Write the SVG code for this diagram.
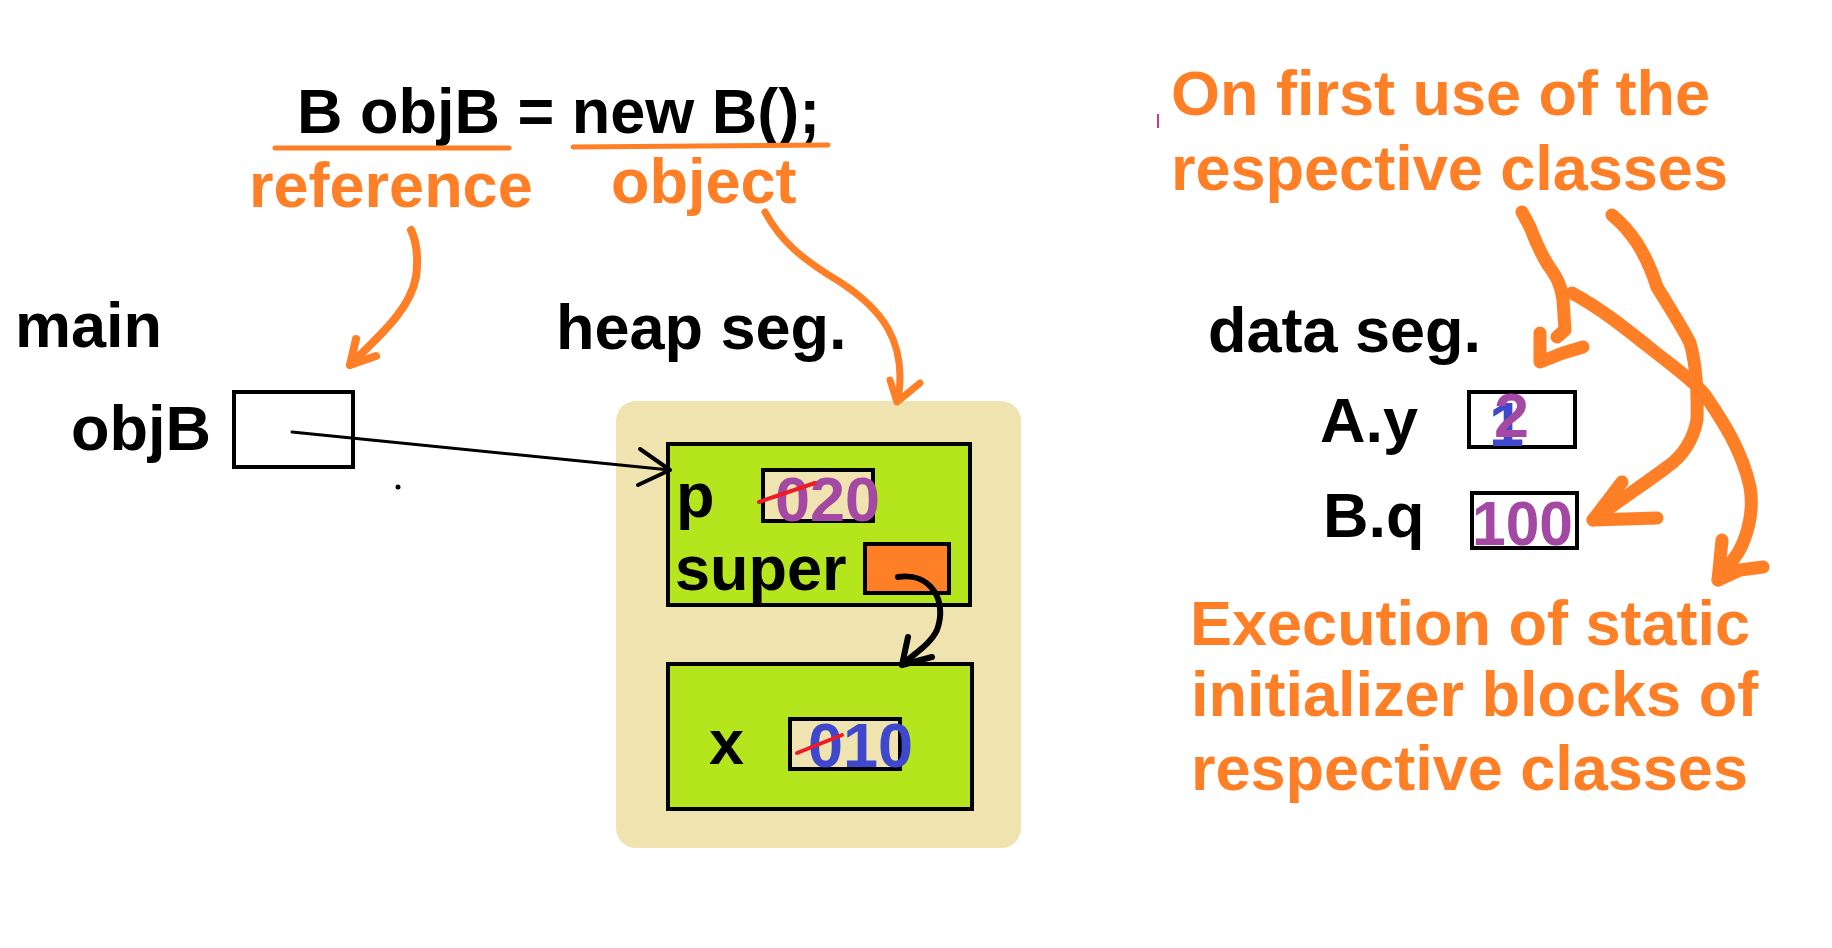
<svg xmlns="http://www.w3.org/2000/svg" width="1832" height="948" viewBox="0 0 1832 948">
<defs>
<style>
text{font-family:"Liberation Sans",Arial,sans-serif;font-weight:bold;font-size:63px}
.k{fill:#000}
.o{fill:#FF7F27}
.pu{fill:#A349A4}
.bl{fill:#3F48CC}
.box{stroke:#000;stroke-width:4}
.or{fill:none;stroke:#FF7F27;stroke-linecap:round;stroke-linejoin:round}
.bk{fill:none;stroke:#000;stroke-linecap:round;stroke-linejoin:round}
.strike{stroke:#ED1C24;stroke-width:4;stroke-linecap:round}
</style>
</defs>
<rect width="1832" height="948" fill="#fff"/>

<g id="code">
<text class="k" x="297" y="133">B objB = new B();</text>
<line x1="275" y1="148" x2="509" y2="148" stroke="#FF7F27" stroke-width="5" stroke-linecap="round"/>
<path d="M573,147 L700,146 L828,145" fill="none" stroke="#FF7F27" stroke-width="5" stroke-linecap="round"/>
<text class="o" x="249" y="207">reference</text>
<text class="o" x="611" y="203">object</text>
</g>

<g id="main">
<text class="k" x="15" y="347">main</text>
<text class="k" x="71" y="450">objB</text>
<rect class="box" x="234" y="392" width="119" height="75" fill="#fff"/>
<circle cx="398" cy="487" r="2.5" fill="#000"/>
</g>

<g id="heap">
<text class="k" x="556" y="349">heap seg.</text>
<rect x="616" y="401" width="405" height="447" rx="20" fill="#EFE4B0"/>
<g id="objectB">
<rect class="box" x="668" y="444" width="302" height="161" fill="#B5E61D"/>
<text class="k" x="676" y="517">p</text>
<rect class="box" x="763" y="470" width="110" height="51" fill="#EFE4B0"/>
<text class="pu" x="775" y="521" font-size="65">020</text>
<line class="strike" x1="759" y1="502" x2="815" y2="483"/>
<text class="k" x="675" y="590">super</text>
<rect class="box" x="865" y="544" width="84" height="49" fill="#FF7F27"/>
</g>
<g id="objectA">
<rect class="box" x="668" y="664" width="304" height="145" fill="#B5E61D"/>
<text class="k" x="709" y="764">x</text>
<rect class="box" x="790" y="719" width="110" height="50" fill="#EFE4B0"/>
<text class="bl" x="808" y="767" font-size="64">010</text>
<line class="strike" x1="797" y1="753" x2="842" y2="735"/>
</g>
</g>

<g id="dataseg">
<text class="k" x="1208" y="352">data seg.</text>
<text class="k" x="1320" y="442">A.y</text>
<rect class="box" x="1469" y="392" width="106" height="55" fill="#fff"/>
<text class="bl" x="1489" y="446" font-size="58">1</text>
<text class="pu" x="1494" y="437">2</text>
<text class="k" x="1323" y="537">B.q</text>
<rect class="box" x="1472" y="493" width="105" height="55" fill="#fff"/>
<text class="pu" x="1472" y="545" font-size="66" textLength="101" lengthAdjust="spacingAndGlyphs">100</text>
</g>

<g id="notes">
<text class="o" x="1171" y="115">On first use of the</text>
<text class="o" x="1171" y="190">respective classes</text>
<line x1="1158" y1="114" x2="1158" y2="128" stroke="#C04090" stroke-width="2"/>
<text class="o" x="1190" y="645">Execution of static</text>
<text class="o" x="1191" y="716">initializer blocks of</text>
<text class="o" x="1191" y="790">respective classes</text>
</g>

<g id="connectors">
<path class="or" stroke-width="8" d="M411,230 C418,245 418,262 416,277 C410,310 380,335 350,365"/>
<path class="or" stroke-width="8" d="M356,339 L350,365 L376,356"/>
<path class="or" stroke-width="7" d="M765,212 C780,240 800,258 840,282 C880,308 908,340 898,400"/>
<path class="or" stroke-width="7" d="M890,380 L897,402 L920,383"/>
<path class="bk" stroke-width="3" d="M292,432 L670,470"/>
<path class="bk" stroke-width="4" d="M640,449 L670,470 L638,485"/>
<path class="bk" stroke-width="6" d="M898,577 C930,572 948,600 937,630 C930,645 912,655 902,665"/>
<path class="bk" stroke-width="6" d="M908,637 L902,665 L932,657"/>
<path class="or" stroke-width="13" d="M1522,212 L1530,227 C1535,240 1540,252 1548,265 C1555,275 1561,283 1563,300 L1565,330 L1557,337"/>
<path class="or" stroke-width="13" d="M1540,333 L1540,362 L1563,353 L1583,347"/>
<path class="or" stroke-width="13" d="M1572,293 C1600,308 1625,328 1650,348 C1675,368 1695,382 1705,395 C1722,420 1742,450 1750,487 C1755,515 1745,545 1733,560 L1718,580"/>
<path class="or" stroke-width="13" d="M1722,540 L1718,580 L1740,570 L1763,567"/>
<path class="or" stroke-width="13" d="M1612,215 C1630,230 1645,250 1657,287 C1668,305 1684,330 1690,343 C1695,360 1698,380 1697,420 C1692,445 1680,458 1667,467 C1650,480 1620,500 1593,520"/>
<path class="or" stroke-width="13" d="M1622,482 L1593,520 L1657,518"/>
</g>
</svg>
